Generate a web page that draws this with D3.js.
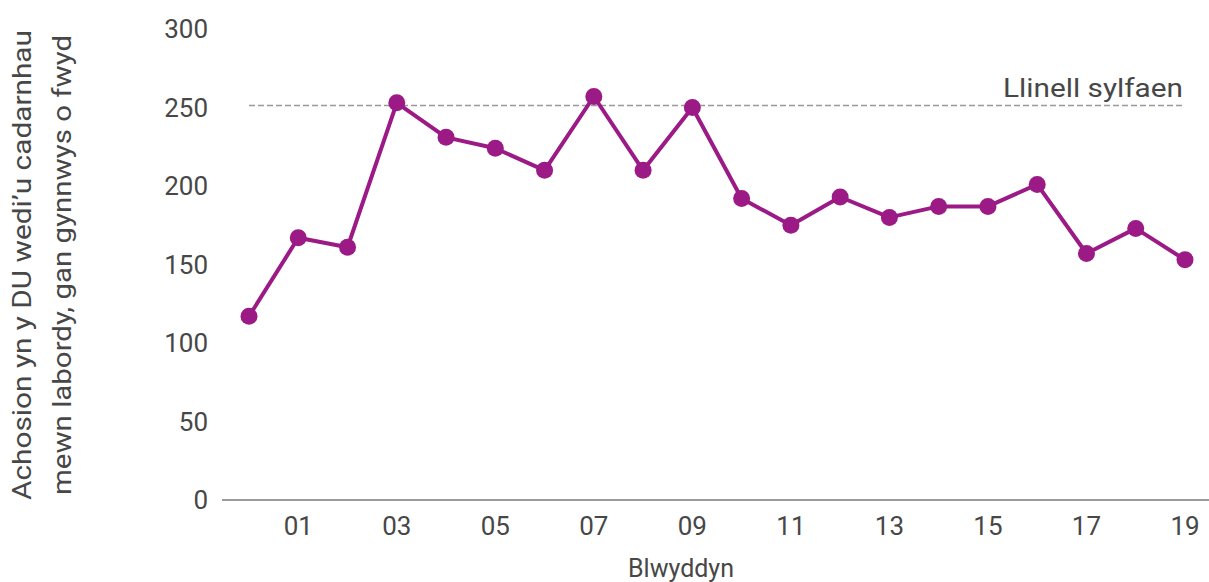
<!DOCTYPE html>
<html><head><meta charset="utf-8">
<script src="https://cdn.jsdelivr.net/npm/d3@7"></script>
<style>body{margin:0;background:#fff;} svg{display:block;font-family:Roboto, "Noto Sans", sans-serif;}</style>
</head><body>
<svg id="c" width="1209" height="582"></svg>
<script>
const years = [2000,2001,2002,2003,2004,2005,2006,2007,2008,2009,2010,2011,2012,2013,2014,2015,2016,2017,2018,2019];
const cases = [117,167,161,253,231,224,210,257,210,250,192,175,193,180,187,187,201,157,173,153];
const yTicks = [0,50,100,150,200,250,300];
const xTickYears = [2001,2003,2005,2007,2009,2011,2013,2015,2017,2019];
const baselineValue = 250;
const baselineLabel = "Llinell sylfaen";
const xTitle = "Blwyddyn";
const yTitle = ["Achosion yn y DU wedi’u cadarnhau", "mewn labordy, gan gynnwys o fwyd"];

const svg = d3.select("#c");
const x = d3.scaleLinear().domain([2000,2019]).range([249,1185]);
const y = d3.scaleLinear().domain([0,300]).range([500,29]);
const purple = "#9c1a86";
const textCol = "#474747";

// axis line
svg.append("line").attr("x1",222).attr("x2",1209).attr("y1",y(0)).attr("y2",y(0))
  .attr("stroke","#9a9a9a").attr("stroke-width",2);

// y tick labels
svg.selectAll(".yt").data(yTicks).join("text")
  .attr("x",208).attr("y",d=>y(d)).attr("dy","0.36em")
  .attr("text-anchor","end").attr("font-size",26).attr("fill",textCol)
  .text(d=>d);

// x tick labels
svg.selectAll(".xt").data(xTickYears).join("text")
  .attr("x",d=>x(d)).attr("y",535)
  .attr("text-anchor","middle").attr("font-size",26).attr("fill",textCol)
  .text(d=>String(d%100).padStart(2,"0"));

// x title
svg.append("text").attr("x",681).attr("y",577).attr("text-anchor","middle")
  .attr("font-size",25).attr("fill",textCol).text(xTitle);

// y title
const yLens = [470, 460];
yTitle.forEach((t,i)=>{
  svg.append("text").attr("transform",`translate(${31+i*40},265) rotate(-90)`)
    .attr("text-anchor","middle").attr("font-size",25).attr("fill",textCol)
    .attr("textLength",yLens[i]).attr("lengthAdjust","spacingAndGlyphs").text(t);
});

// baseline
svg.append("line").attr("x1",x(2000)).attr("x2",x(2019)).attr("y1",y(baselineValue)-2).attr("y2",y(baselineValue)-2)
  .attr("stroke","#999").attr("stroke-width",1.5).attr("stroke-dasharray","6,3");
svg.append("text").attr("x",x(2019)-2).attr("y",y(baselineValue)-11).attr("text-anchor","end")
  .attr("font-size",25).attr("fill",textCol)
  .attr("textLength",180).attr("lengthAdjust","spacingAndGlyphs").text(baselineLabel);

// line
const line = d3.line().x((d,i)=>x(years[i])).y(d=>y(d));
svg.append("path").datum(cases).attr("d",line).attr("fill","none")
  .attr("stroke",purple).attr("stroke-width",4).attr("stroke-linejoin","round");
svg.selectAll(".pt").data(cases).join("circle")
  .attr("cx",(d,i)=>x(years[i])).attr("cy",d=>y(d)).attr("r",8.5).attr("fill",purple);
</script>
</body></html>
